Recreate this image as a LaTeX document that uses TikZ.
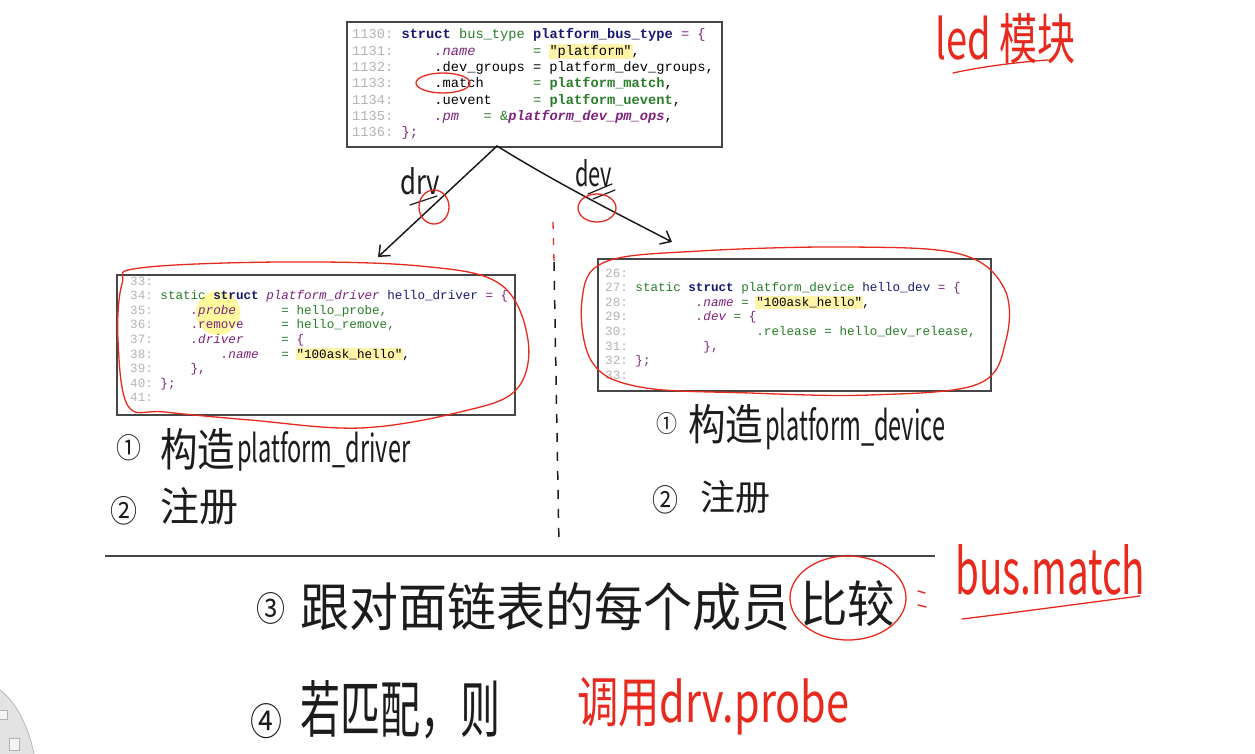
\documentclass[tikz,border=0pt]{standalone}
\usepackage{fontspec}
\usepackage{graphicx}
\usetikzlibrary{arrows.meta}
\setmonofont{Liberation Mono}
\newfontfamily\cjk{Noto Sans CJK SC}
\definecolor{kwnavy}{RGB}{25,25,115}
\definecolor{cgreen}{RGB}{40,125,40}
\definecolor{cpurple}{RGB}{125,35,125}
\definecolor{lnumc}{RGB}{180,180,180}
\definecolor{hlc}{RGB}{255,244,170}
\definecolor{pen}{RGB}{232,42,30}
\definecolor{ink}{RGB}{28,28,28}
\definecolor{boxc}{RGB}{70,70,70}
\newcommand\sk[1]{\hskip\dimexpr0.6em*#1\relax}
\newcommand\kw[1]{\textcolor{kwnavy}{\bfseries #1}}
\newcommand\nv[1]{\textcolor{kwnavy}{#1}}
\newcommand\gr[1]{\textcolor{cgreen}{#1}}
\newcommand\grb[1]{\textcolor{cgreen}{\bfseries #1}}
\newcommand\pu[1]{\textcolor{cpurple}{#1}}
\newcommand\pui[1]{\textcolor{cpurple}{\itshape #1}}
\newcommand\hlt[1]{{\setlength{\fboxsep}{1pt}\hspace*{-1pt}\colorbox{hlc}{#1}\hspace*{-1pt}}}
\newcommand\lno[1]{\textcolor{lnumc}{#1}}
\newcommand\hw[3]{\resizebox{#1pt}{#2pt}{#3}}
\tikzset{
  codebig/.style={anchor=base west, inner sep=0pt, font=\ttfamily\fontsize{13.7}{16}\selectfont},
  codesm/.style={anchor=base west, inner sep=0pt, font=\ttfamily\fontsize{12.6}{14}\selectfont},
  codebox/.style={draw=boxc, line width=1.6pt, fill=white},
  hand/.style={anchor=base west, inner sep=0pt, text=ink, font=\cjk},
  redhand/.style={anchor=base west, inner sep=0pt, text=pen, font=\cjk},
  redloop/.style={draw=pen, line width=1.3pt},
  inkline/.style={draw=ink, line width=1.5pt, line cap=round},
}
\begin{document}
\begin{tikzpicture}[x=1pt,y=-1pt]
\useasboundingbox (0,0) rectangle (1255,754);
\fill[white] (0,0) rectangle (1255,754);

% bottom-left gray fragment
\fill[gray!22] (0,690) .. controls (16,702) and (28,725) .. (34,754) -- (0,754) -- cycle;
\draw[gray!55, line width=0.8pt] (0,690) .. controls (16,702) and (28,725) .. (34,754);
\node[draw=gray!60, fill=gray!8, minimum width=8pt, minimum height=9pt, inner sep=0pt] (icona) at (3,715) {};
\node[draw=gray!60, fill=gray!8, minimum width=10pt, minimum height=12pt, inner sep=0pt] (iconb) at (14,744) {};

% ---------- top box ----------
\node[codebox, minimum width=375pt, minimum height=125pt, anchor=north west] (tbox) at (346,21) {};
\node[codebig] (t1) at (352,39) {\lno{1130:} \kw{struct} \gr{bus\_type} \kw{platform\_bus\_type} \pu{= \{}};
\node[codebig] (t2) at (352,55.3) {\lno{1131:} \sk{4}\pui{.name}\sk{7}\gr{=} \hlt{"platform"},};
\node[codebig] (t3) at (352,71.6) {\lno{1132:} \sk{4}.dev\_groups = platform\_dev\_groups,};
\node[codebig] (t4) at (352,88) {\lno{1133:} \sk{4}.match\sk{6}\gr{=} \grb{platform\_match},};
\node[codebig] (t5) at (352,104.3) {\lno{1134:} \sk{4}.uevent\sk{5}\gr{=} \grb{platform\_uevent},};
\node[codebig] (t6) at (352,120.6) {\lno{1135:} \sk{4}\pui{.pm}\sk{3}\gr{= \&}\pui{\bfseries platform\_dev\_pm\_ops},};
\node[codebig] (t7) at (352,137) {\lno{1136:} \pu{\};}};

% ---------- left box ----------
\node[codebox, minimum width=398pt, minimum height=140pt, anchor=north west] (lbox) at (116,274) {};
\fill[yellow!70, opacity=0.55] (218,313) circle[radius=22];
\node[codesm] (l33) at (130,285) {\lno{33:}};
\node[codesm] (l34) at (130,299.6) {\lno{34:} \gr{static} \kw{struct} \pui{platform\_driver} \nv{hello\_driver} \pu{= \{}};
\node[codesm] (l35) at (130,314.2) {\lno{35:} \sk{4}\pui{.probe}\sk{6}\gr{= hello\_probe,}};
\node[codesm] (l36) at (130,328.8) {\lno{36:} \sk{4}\pu{.remove}\sk{5}\gr{= hello\_remove,}};
\node[codesm] (l37) at (130,343.4) {\lno{37:} \sk{4}\pui{.driver}\sk{5}\gr{=} \pu{\{}};
\node[codesm] (l38) at (130,358) {\lno{38:} \sk{8}\pui{.name}\sk{3}\gr{=} \hlt{"100ask\_hello"},};
\node[codesm] (l39) at (130,372.6) {\lno{39:} \sk{4}\pu{\},}};
\node[codesm] (l40) at (130,387.2) {\lno{40:} \pu{\};}};
\node[codesm] (l41) at (130,401.8) {\lno{41:}};

% ---------- right box ----------
\node[codebox, minimum width=393pt, minimum height=132pt, anchor=north west] (rbox) at (597,258) {};
\node[codesm] (r26) at (605,277) {\lno{26:}};
\node[codesm] (r27) at (605,291.6) {\lno{27:} \gr{static} \kw{struct} \gr{platform\_device} \nv{hello\_dev} \pu{= \{}};
\node[codesm] (r28) at (605,306.2) {\lno{28:} \sk{8}\pui{.name} \gr{=} \hlt{"100ask\_hello"},};
\node[codesm] (r29) at (605,320.8) {\lno{29:} \sk{8}\pui{.dev} \gr{=} \pu{\{}};
\node[codesm] (r30) at (605,335.4) {\lno{30:} \sk{16}\gr{.release = hello\_dev\_release,}};
\node[codesm] (r31) at (605,350) {\lno{31:} \sk{9}\pu{\},}};
\node[codesm] (r32) at (605,364.6) {\lno{32:} \pu{\};}};
\node[codesm] (r33) at (605,379.2) {\lno{33:}};

% ---------- arrows drv / dev ----------
\coordinate (apex) at (497,146);
\coordinate (drvtip) at (378,257);
\coordinate (devtip) at (672,242);
\draw[inkline, -{Straight Barb[length=9pt,width=15pt]}] (apex) -- (drvtip);
\draw[inkline, -{Straight Barb[length=9pt,width=15pt]}] (apex) .. controls (560,185) and (620,215) .. (devtip);
\node[hand] (drv) at (400,195) {\hw{40}{27}{drv}};
\node[hand] (dev) at (575,187) {\hw{37}{27}{dev}};
\coordinate (dva) at (410,205); \coordinate (dvb) at (437,196);
\draw[inkline, line width=1.2pt] (dva) -- (dvb);
\coordinate (dea) at (588,194); \coordinate (deb) at (612,184);
\coordinate (dec) at (593,199); \coordinate (ded) at (615,190);
\draw[inkline, line width=1.2pt] (dea) -- (deb);
\draw[inkline, line width=1.2pt] (dec) -- (ded);
\draw[redloop] (434,207) ellipse[x radius=15, y radius=17];
\draw[redloop] (597,208) ellipse[x radius=19, y radius=14];

% red loops
\draw[redloop] (443,83) ellipse[x radius=27, y radius=10];
\draw[redloop] plot[smooth cycle, tension=0.6] coordinates {(140,268) (280,262) (420,266) (500,284) (528,340) (516,390) (460,412) (360,428) (250,420) (165,412) (128,406) (118,340) (122,284)};
\draw[redloop] plot[smooth cycle, tension=0.6] coordinates {(605,262) (700,251) (850,247) (960,254) (1004,288) (1006,340) (978,384) (870,395) (750,393) (640,387) (592,362) (582,300)};

% vertical dashed divider
\coordinate (vtop) at (553,222); \coordinate (vmid) at (554,262);
\coordinate (vbot) at (559,546);
\draw[pen, line width=1.3pt, dash pattern=on 7pt off 9pt] (vtop) -- (vmid);
\draw[ink, line width=1.5pt, dash pattern=on 9pt off 10pt] (vmid) -- (vbot);

% left captions
\node[hand] (c1l) at (116,458) {\hw{25}{24}{①}};
\node[hand] (g1l) at (160,466) {\hw{75}{38}{构造}};
\node[hand] (p1l) at (237,462) {\hw{173}{31}{platform\_driver}};
\node[hand] (c2l) at (110,522) {\hw{27}{26}{②}};
\node[hand] (z2l) at (160,521) {\hw{78}{34}{注册}};

% right captions
\node[hand] (c1r) at (656,432) {\hw{21}{20}{①}};
\node[hand] (g1r) at (688,440) {\hw{75}{36}{构造}};
\node[hand] (p1r) at (765,440) {\hw{180}{33}{platform\_device}};
\node[hand] (c2r) at (652,511) {\hw{26}{26}{②}};
\node[hand] (z2r) at (700,510) {\hw{70}{30}{注册}};

% horizontal rule
\coordinate (hl) at (105,556); \coordinate (hr) at (935,556);
\draw[boxc, line width=1.6pt] (hl) -- (hr);

% row 3
\node[hand] (c3) at (256,621) {\hw{29}{29}{③}};
\node[hand] (s3) at (300,626) {\hw{490}{44}{跟对面链表的每个成员}};
\node[hand] (bj) at (800,622) {\hw{95}{42}{比较}};
\draw[redloop] (848,598) ellipse[x radius=58, y radius=42];
\coordinate (eqa) at (918,591); \coordinate (eqb) at (925,593);
\coordinate (eqc) at (918,605); \coordinate (eqd) at (926,607);
\draw[pen, line width=1.4pt, line cap=round] (eqa) -- (eqb);
\draw[pen, line width=1.4pt, line cap=round] (eqc) -- (eqd);
\node[redhand] (bm) at (955,594) {\hw{190}{50}{bus.match}};
\coordinate (ua) at (962,619); \coordinate (ub) at (1140,596);
\draw[redloop, line cap=round] (ua) .. controls (1020,612) and (1085,603) .. (ub);

% row 4
\node[hand] (c4) at (250,735) {\hw{32}{32}{④}};
\node[hand] (s4) at (300,732) {\hw{200}{52}{若匹配，则}};
\node[redhand] (dp) at (577,722) {\hw{272}{45}{调用drv.probe}};

% top right note
\node[redhand] (led) at (935,60) {\hw{140}{46}{led 模块}};
\coordinate (la) at (953,73); \coordinate (lb) at (1048,60);
\draw[redloop, line cap=round] (la) .. controls (985,66) and (1020,62) .. (lb);
\end{tikzpicture}
\end{document}
